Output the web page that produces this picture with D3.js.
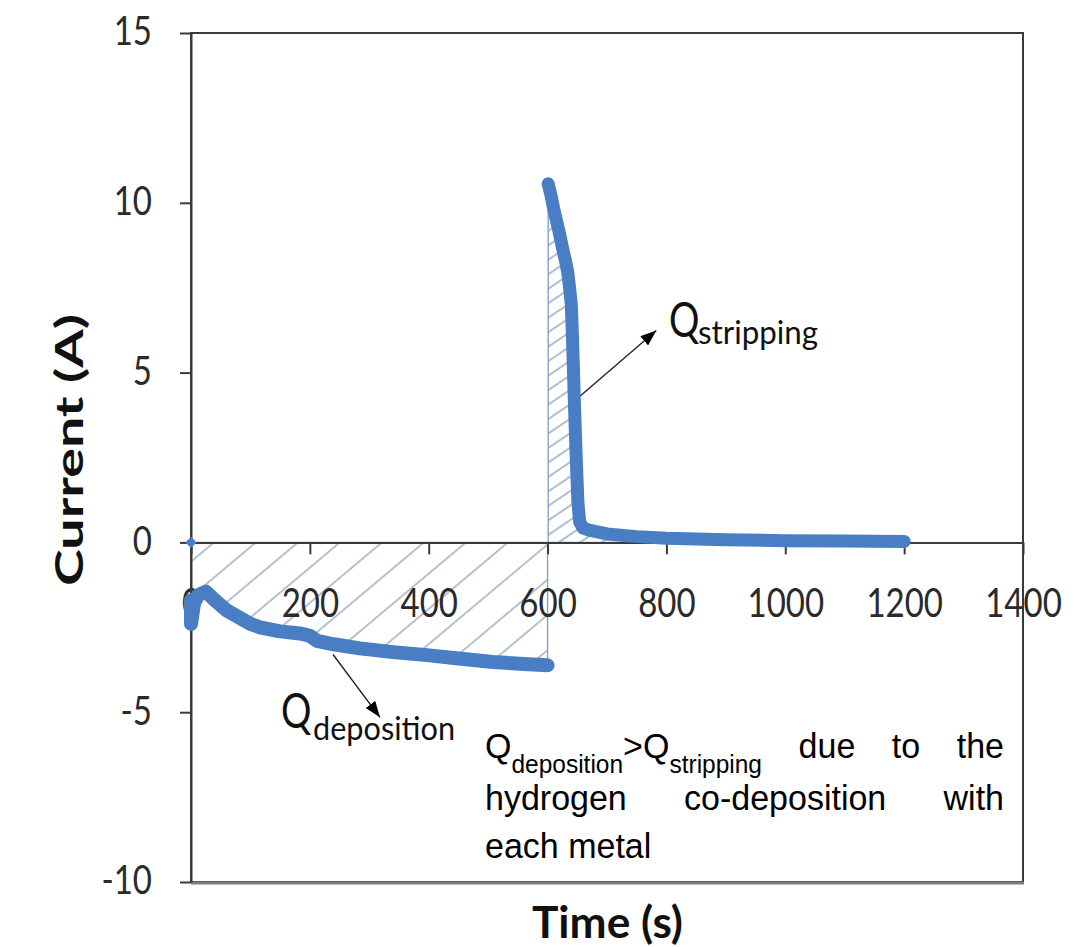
<!DOCTYPE html>
<html>
<head>
<meta charset="utf-8">
<script src="https://cdn.jsdelivr.net/npm/d3@7"></script>
<style>
body { margin: 0; background: #fff; }
svg { display: block; }
</style>
</head>
<body>
<div id="chart"></div>
<script>
// values
var depositionTime = [0, 0, 0, 0, 5, 12, 25, 40, 60, 80, 100, 116, 150, 183, 200, 212, 240, 284, 340, 397, 450, 508, 560, 600];
var depositionCurrent = [0, -1.7, -2.1, -2.4, -1.8, -1.55, -1.45, -1.7, -2.0, -2.2, -2.4, -2.5, -2.62, -2.68, -2.75, -2.9, -3.0, -3.12, -3.23, -3.32, -3.42, -3.52, -3.58, -3.62];
var strippingTime = [601, 606, 610, 615, 620, 625, 630, 634, 637, 640, 642, 643.5, 645, 646.5, 648, 649.5, 651, 654, 660, 670, 682, 700, 750, 800, 850, 900, 1000, 1100, 1200];
var strippingCurrent = [10.56, 10.2, 9.85, 9.47, 9.1, 8.68, 8.3, 7.95, 7.5, 7.0, 6.0, 5.1, 4.2, 3.4, 2.6, 1.9, 1.2, 0.6, 0.42, 0.36, 0.32, 0.25, 0.17, 0.12, 0.1, 0.08, 0.05, 0.04, 0.03];
var xTicks = [0, 200, 400, 600, 800, 1000, 1200, 1400];
var yTicks = [-10, -5, 0, 5, 10, 15];

// arrows, in data units: [t0, i0, t1, i1]
var depositionArrow = [239, -3.3, 318, -5.15];
var strippingArrow = [650, 4.24, 783, 6.24];

var W = 1082, H = 947;
var blue = "#4a7ec4";
var stretch = 1.25;

var x = d3.scaleLinear().domain([0, 1400]).range([191, 1023]);
var y = d3.scaleLinear().domain([-10, 15]).range([882, 33]);

var svg = d3.select("#chart")
.append("svg")
.attr("width", W)
.attr("height", H);

var defs = svg.append("defs");

defs.append("pattern")
.attr("id", "hatchDep")
.attr("patternUnits", "userSpaceOnUse")
.attr("width", 27).attr("height", 27)
.attr("patternTransform", "rotate(50)")
.append("line")
.attr("x1", 13).attr("x2", 13).attr("y1", 0).attr("y2", 27)
.attr("stroke", "#7b8ca6").attr("stroke-width", 1.1);

defs.append("pattern")
.attr("id", "hatchStr")
.attr("patternUnits", "userSpaceOnUse")
.attr("width", 12).attr("height", 12)
.attr("patternTransform", "rotate(56)")
.append("line")
.attr("x1", 6).attr("x2", 6).attr("y1", 0).attr("y2", 12)
.attr("stroke", "#6a88b2").attr("stroke-width", 1.1);

defs.append("marker")
.attr("id", "arrow")
.attr("viewBox", "0 0 16 12")
.attr("refX", 16).attr("refY", 6)
.attr("markerWidth", 16).attr("markerHeight", 12)
.attr("markerUnits", "userSpaceOnUse")
.attr("orient", "auto")
.append("path")
.attr("d", "M0,0L16,6L0,12Z")
.attr("fill", "#000");

var deposition = depositionTime.map(function(t, i) { return {t: t, v: depositionCurrent[i]}; });
var stripping = strippingTime.map(function(t, i) { return {t: t, v: strippingCurrent[i]}; });

// hatched charge areas
var area = d3.area()
.x(function(d) { return x(d.t); })
.y0(y(0))
.y1(function(d) { return y(d.v); });

svg.append("path")
.datum(deposition)
.attr("d", area)
.attr("fill", "url(#hatchDep)")
.attr("stroke", "#7f9cc6")
.attr("stroke-width", 1.3);

svg.append("path")
.datum(stripping)
.attr("d", area)
.attr("fill", "url(#hatchStr)")
.attr("stroke", "#7f9cc6")
.attr("stroke-width", 1.3);

// plot area border
svg.append("rect")
.attr("x", x(0)).attr("y", y(15))
.attr("width", x(1400) - x(0)).attr("height", y(-10) - y(15))
.attr("fill", "none")
.attr("stroke", "#3a3a3a")
.attr("stroke-width", 2);
svg.append("line")
.attr("x1", x(0)).attr("x2", x(1400) + 1)
.attr("y1", y(-10) + 1).attr("y2", y(-10) + 1)
.attr("stroke", "#7d7d7d").attr("stroke-width", 3);

// axes
var gx = svg.append("g")
.attr("transform", "translate(0," + y(0) + ")")
.call(d3.axisBottom(x).tickValues(xTicks).tickSize(12).tickSizeOuter(0).tickFormat(function(d) { return String(d); }))
.attr("font-family", "Lato, sans-serif")
.attr("font-size", 33);
gx.select(".domain").attr("stroke", "#3a3a3a").attr("stroke-width", 2);
gx.selectAll(".tick line").attr("stroke", "#3a3a3a").attr("stroke-width", 2);
gx.selectAll(".tick text")
.attr("y", null).attr("dy", null)
.attr("fill", "#2a2a2a")
.attr("transform", "translate(0,75) scale(1," + stretch + ")");

var gy = svg.append("g")
.attr("transform", "translate(" + x(0) + ",0)")
.call(d3.axisLeft(y).tickValues(yTicks).tickSize(11).tickSizeOuter(0).tickPadding(28).tickFormat(function(d) { return String(d); }))
.attr("font-family", "Lato, sans-serif")
.attr("font-size", 33);
gy.select(".domain").attr("stroke", "#3a3a3a").attr("stroke-width", 2);
gy.selectAll(".tick line").attr("stroke", "#3a3a3a").attr("stroke-width", 2);
gy.selectAll(".tick text")
.attr("dy", "0.29em")
.attr("fill", "#2a2a2a")
.attr("transform", "scale(1," + stretch + ")");

// arrows
[depositionArrow, strippingArrow].forEach(function(a) {
    svg.append("line")
    .attr("x1", x(a[0])).attr("y1", y(a[1]))
    .attr("x2", x(a[2])).attr("y2", y(a[3]))
    .attr("stroke", "#222")
    .attr("stroke-width", 1.4)
    .attr("marker-end", "url(#arrow)");
});

// data: dense markers drawn as a thick band
var band = d3.line()
.x(function(d) { return x(d.t); })
.y(function(d) { return y(d.v); });

svg.append("path")
.datum(deposition.slice(1))
.attr("d", band)
.attr("fill", "none")
.attr("stroke", blue)
.attr("stroke-width", 14)
.attr("stroke-linejoin", "round")
.attr("stroke-linecap", "round");

svg.append("path")
.datum(stripping)
.attr("d", band)
.attr("fill", "none")
.attr("stroke", blue)
.attr("stroke-width", 13)
.attr("stroke-linejoin", "round")
.attr("stroke-linecap", "round");

svg.selectAll(".pt")
.data(deposition.concat(stripping))
.enter()
.append("path")
.attr("class", "pt")
.attr("transform", function(d) { return "translate(" + x(d.t) + "," + y(d.v) + ")"; })
.attr("d", d3.symbol().type(d3.symbolDiamond2).size(80))
.attr("fill", blue);

// Calibri-like labels (the picture is stretched vertically)
function label(str, px, py, size, len, weight) {
    var t = svg.append("text")
    .attr("transform", "translate(" + px + "," + py + ") scale(1," + stretch + ")")
    .attr("font-family", "Lato, sans-serif")
    .attr("font-size", size)
    .attr("font-weight", weight || "normal")
    .attr("fill", "#111")
    .text(str);
    if (len) t.attr("textLength", len).attr("lengthAdjust", "spacingAndGlyphs");
    return t;
}

label("Q", 281, 728, 38);
label("deposition", 313, 740, 27, 142);
label("Q", 669, 337, 38);
label("stripping", 698, 344, 27, 120);

label("Time (s)", 532, 938, 35, 151, "bold");

svg.append("text")
.attr("transform", "translate(83,450) rotate(-90)")
.attr("text-anchor", "middle")
.attr("font-family", "Lato, sans-serif")
.attr("font-size", 39)
.attr("font-weight", "bold")
.attr("fill", "#111")
.attr("textLength", 272)
.attr("lengthAdjust", "spacingAndGlyphs")
.text("Current (A)");

// justified note
var noteLeft = 485, noteRight = 1004, noteSize = 34, subSize = 24.5, noteStretch = 1.05;
var noteLines = [
    {y: 758, justify: true, words: [
        [["Q", 0], ["deposition", 1], [">", 0], ["Q", 0], ["stripping", 1]],
        [["due", 0]], [["to", 0]], [["the", 0]]
    ]},
    {y: 810, justify: true, words: [[["hydrogen", 0]], [["co-deposition", 0]], [["with", 0]]]},
    {y: 858, justify: false, words: [[["each", 0]], [["metal", 0]]]}
];

noteLines.forEach(function(ln) {
    var nodes = ln.words.map(function(parts) {
        var t = svg.append("text")
        .attr("font-family", "'Liberation Sans', Arial, sans-serif")
        .attr("font-size", noteSize)
        .attr("fill", "#000");
        var lvl = 0;
        parts.forEach(function(p) {
            var sub = p[1];
            var dy = (sub - lvl) * 15 / noteStretch;
            lvl = sub;
            t.append("tspan")
            .attr("dy", dy)
            .attr("font-size", sub ? subSize : noteSize)
            .text(p[0]);
        });
        return t;
    });
    var widths = nodes.map(function(t) { return t.node().getComputedTextLength(); });
    var total = d3.sum(widths);
    var gap = ln.justify ? (noteRight - noteLeft - total) / (nodes.length - 1) : noteSize * 0.278;
    var cx = noteLeft;
    nodes.forEach(function(t, i) {
        t.attr("transform", "translate(" + cx + "," + ln.y + ") scale(1," + noteStretch + ")");
        cx += widths[i] + gap;
    });
});
</script>
</body>
</html>
